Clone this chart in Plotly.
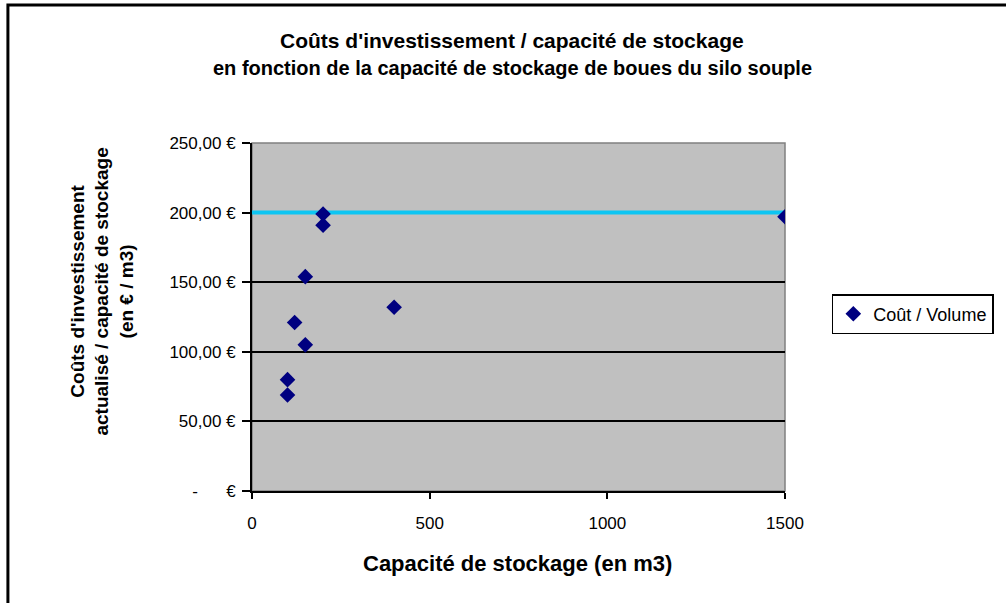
import plotly.graph_objects as go

# Data
capacite_m3 = [100, 100, 120, 150, 150, 200, 200, 400, 1500]
cout_par_volume = [69, 80, 121, 105, 154, 191, 199, 132, 197]
seuil_x = [0, 1500]
seuil_y = [200, 200]

y_tick_vals = [0, 50, 100, 150, 200, 250]
y_tick_text = ["-\u00a0\u00a0\u00a0\u00a0\u00a0\u00a0€", "50,00 €", "100,00 €", "150,00 €", "200,00 €", "250,00 €"]
x_tick_vals = [0, 500, 1000, 1500]
x_tick_text = ["0", "500", "1000", "1500"]

FONT = "Liberation Sans, Arial, sans-serif"

# plot area in pixels: x 252..787, y 143..491
L, R, T, B = 252, 787, 143, 491
W, H = 1006, 603


def px_to_paper(px, py):
    return (px - L) / (R - L), (B - py) / (B - T)


fig = go.Figure()

# reference line at 200 €
fig.add_trace(go.Scatter(
    x=seuil_x, y=seuil_y, mode="lines",
    line=dict(color="#0DC5F2", width=4),
    showlegend=False, hoverinfo="skip",
))

fig.add_trace(go.Scatter(
    x=capacite_m3, y=cout_par_volume, mode="markers",
    name="Coût / Volume",
    marker=dict(symbol="diamond", size=12, color="#000080"),
))

fig.update_layout(
    width=W, height=H,
    margin=dict(l=L, r=W - R, t=T, b=H - B),
    paper_bgcolor="white",
    plot_bgcolor="#C0C0C0",
    font=dict(family=FONT, size=17, color="black"),
    showlegend=True,
    legend=dict(
        x=px_to_paper(834, 0)[0], y=px_to_paper(0, 314)[1],
        xanchor="left", yanchor="middle",
        bordercolor="black", borderwidth=1.5,
        bgcolor="white",
        font=dict(family=FONT, size=18),
        itemwidth=30,
    ),
)

fig.update_xaxes(
    range=[0, 1500],
    tickvals=x_tick_vals, ticktext=x_tick_text,
    tickfont=dict(family=FONT, size=17),
    showgrid=False, zeroline=False,
    showline=True, linecolor="black", linewidth=2,
    ticks="outside", ticklen=6, tickcolor="black", tickwidth=2,
    ticklabelstandoff=10,
)
fig.update_yaxes(
    range=[0, 250],
    tickvals=y_tick_vals, ticktext=y_tick_text,
    tickfont=dict(family=FONT, size=17),
    showgrid=True, gridcolor="black", gridwidth=1.5,
    zeroline=False,
    showline=True, linecolor="black", linewidth=2,
    ticks="outside", ticklen=8, tickcolor="black", tickwidth=2,
    ticklabelstandoff=3,
)

# gray plot border (top / right)
fig.add_shape(type="rect", xref="paper", yref="paper", x0=0, y0=0, x1=1, y1=1,
              line=dict(color="#808080", width=1.5), layer="below")

# outer chart border
bx0, by1 = px_to_paper(7, 5)
bx1, by0 = px_to_paper(1012, 612)
fig.add_shape(type="rect", xref="paper", yref="paper", x0=bx0, y0=by0, x1=bx1, y1=by1,
              line=dict(color="black", width=3))

# title (two lines)
for txt, py, sz in [("Coûts d'investissement / capacité de stockage", 40, 21),
                    ("en fonction de la capacité de stockage de boues du silo souple", 68, 20)]:
    fig.add_annotation(
        text="<b>%s</b>" % txt, xref="paper", yref="paper",
        x=px_to_paper(513, 0)[0], y=px_to_paper(0, py)[1],
        xanchor="center", yanchor="middle", showarrow=False,
        font=dict(family=FONT, size=sz, color="black"),
    )

# axis titles
fig.add_annotation(
    text="<b>Capacité de stockage (en m3)</b>", xref="paper", yref="paper",
    x=px_to_paper(518, 0)[0], y=px_to_paper(0, 563)[1],
    xanchor="center", yanchor="middle", showarrow=False,
    font=dict(family=FONT, size=22, color="black"),
)
fig.add_annotation(
    text="<b>Coûts d'investissement<br>actualisé / capacité de stockage<br>(en € / m3)</b>",
    xref="paper", yref="paper",
    x=px_to_paper(101, 0)[0], y=px_to_paper(0, 292)[1],
    xanchor="center", yanchor="middle", showarrow=False, textangle=-90,
    font=dict(family=FONT, size=19, color="black"),
)

fig.write_html("out.html", config={"displayModeBar": False},
               post_script="document.body.style.margin='0px';")
